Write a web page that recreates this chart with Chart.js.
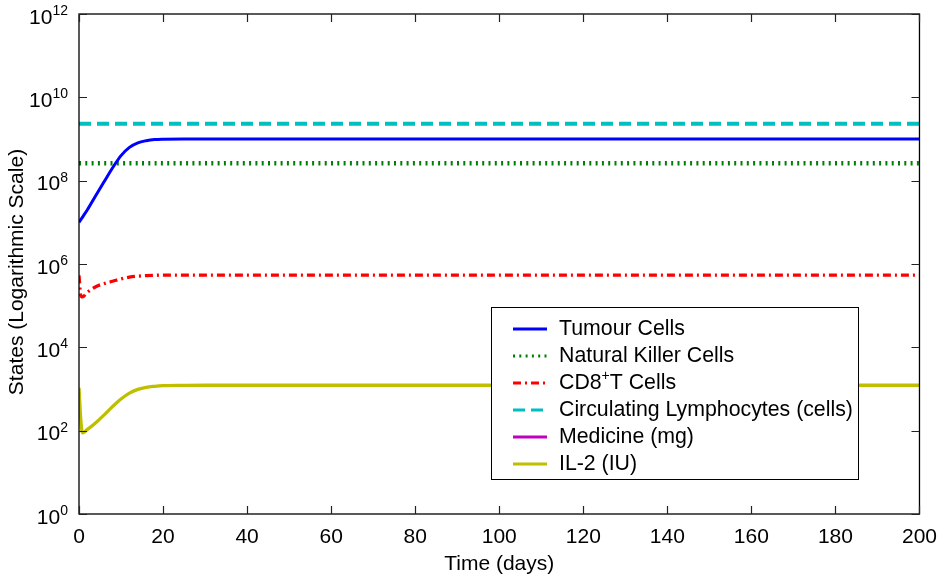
<!DOCTYPE html>
<html>
<head>
<meta charset="utf-8">
<script src="https://cdn.jsdelivr.net/npm/chart.js@4.4.1/dist/chart.umd.min.js"></script>
<style>
  body { margin: 0; background: #fff; }
  canvas { display: block; }
</style>
</head>
<body>
<canvas id="myChart" width="940" height="580"></canvas>
<script>
// time points (days)
const times = [0, 0.4, 0.8, 2, 4, 6, 8, 10, 12, 14, 16, 18, 20, 25, 30, 40, 60, 80, 100, 120, 140, 160, 180, 200];

const tumourCells = [1.0e7, 1.15e7, 1.32e7, 2.0e7, 4.4e7, 9.5e7, 2.04e8, 4.0e8, 6.3e8, 8.1e8, 9.1e8, 9.7e8, 9.9e8, 1.0e9, 1.0e9, 1.0e9, 1.0e9, 1.0e9, 1.0e9, 1.0e9, 1.0e9, 1.0e9, 1.0e9, 1.0e9];
const nkCells = [2.62e8, 2.62e8, 2.62e8, 2.62e8, 2.62e8, 2.62e8, 2.62e8, 2.62e8, 2.62e8, 2.62e8, 2.62e8, 2.62e8, 2.62e8, 2.62e8, 2.62e8, 2.62e8, 2.62e8, 2.62e8, 2.62e8, 2.62e8, 2.62e8, 2.62e8, 2.62e8, 2.62e8];
const cd8Cells = [5.3e5, 1.8e5, 1.62e5, 2.1e5, 2.85e5, 3.4e5, 3.85e5, 4.4e5, 4.85e5, 5.1e5, 5.25e5, 5.35e5, 5.4e5, 5.42e5, 5.42e5, 5.42e5, 5.42e5, 5.42e5, 5.42e5, 5.42e5, 5.42e5, 5.42e5, 5.42e5, 5.42e5];
const lymphocytes = [2.31e9, 2.31e9, 2.31e9, 2.31e9, 2.31e9, 2.31e9, 2.31e9, 2.31e9, 2.31e9, 2.31e9, 2.31e9, 2.31e9, 2.31e9, 2.31e9, 2.31e9, 2.31e9, 2.31e9, 2.31e9, 2.31e9, 2.31e9, 2.31e9, 2.31e9, 2.31e9, 2.31e9];
const medicine = [null, null, null, null, null, null, null, null, null, null, null, null, null, null, null, null, null, null, null, null, null, null, null, null];
const il2 = [1.07e3, 200, 89, 107, 155, 240, 380, 575, 794, 977, 1.1e3, 1.16e3, 1.2e3, 1.22e3, 1.23e3, 1.23e3, 1.23e3, 1.23e3, 1.23e3, 1.23e3, 1.23e3, 1.23e3, 1.23e3, 1.23e3];

const seriesLabels = ['Tumour Cells', 'Natural Killer Cells', 'CD8\u207AT Cells', 'Circulating Lymphocytes (cells)', 'Medicine (mg)', 'IL-2 (IU)'];
const yTickExponents = [0, 2, 4, 6, 8, 10, 12];
const yTitle = 'States (Logarithmic Scale)';

const FONT = '"Liberation Sans", Arial, Helvetica, sans-serif';

function pts(values) {
    return times.map((t, i) => ({ x: t, y: values[i] }));
}

// box, inward ticks, y labels with exponents, y title
const framePlugin = {
    id: 'frame',
    afterDatasetsDraw(chart) {
        const { ctx, chartArea: a, scales } = chart;
        ctx.save();
        ctx.strokeStyle = '#000';
        ctx.lineWidth = 1.3;
        ctx.strokeRect(a.left, a.top, a.right - a.left, a.bottom - a.top);
        ctx.lineWidth = 1.2;
        ctx.strokeStyle = '#222';
        ctx.beginPath();
        scales.x.ticks.forEach(t => {
            const px = Math.round(scales.x.getPixelForValue(t.value)) + 0.5;
            ctx.moveTo(px, a.bottom); ctx.lineTo(px, a.bottom - 8);
            ctx.moveTo(px, a.top); ctx.lineTo(px, a.top + 8);
        });
        yTickExponents.forEach(e => {
            const py = Math.round(scales.y.getPixelForValue(Math.pow(10, e))) + 0.5;
            ctx.moveTo(a.left, py); ctx.lineTo(a.left + 8, py);
            ctx.moveTo(a.right, py); ctx.lineTo(a.right - 8, py);
        });
        ctx.stroke();

        ctx.fillStyle = '#000';
        ctx.textBaseline = 'middle';
        ctx.textAlign = 'right';
        yTickExponents.forEach(e => {
            const py = scales.y.getPixelForValue(Math.pow(10, e));
            ctx.font = '14px ' + FONT;
            const ew = ctx.measureText(String(e)).width;
            ctx.fillText(String(e), 68, py - 3);
            ctx.font = '21px ' + FONT;
            ctx.fillText('10', 68 - ew, py + 4);
        });

        ctx.translate(17, 272);
        ctx.rotate(-Math.PI / 2);
        ctx.textAlign = 'center';
        ctx.font = '21px ' + FONT;
        ctx.fillText(yTitle, 0, 0);
        ctx.restore();
    },
    afterDraw(chart) {
        const { ctx } = chart;
        const box = { left: 491, top: 307, width: 367, height: 172 };
        ctx.save();
        ctx.fillStyle = '#fff';
        ctx.fillRect(box.left, box.top, box.width, box.height);
        ctx.strokeStyle = '#000';
        ctx.lineWidth = 1;
        ctx.strokeRect(box.left + 0.5, box.top + 0.5, box.width, box.height);
        chart.data.datasets.forEach((ds, i) => {
            const y = box.top + 22 + i * 27;
            ctx.strokeStyle = ds.borderColor;
            ctx.lineWidth = Math.min(ds.borderWidth, 3);
            ctx.setLineDash(ds.borderDash || []);
            ctx.beginPath();
            ctx.moveTo(box.left + 22, y);
            ctx.lineTo(box.left + 56, y);
            ctx.stroke();
            ctx.setLineDash([]);
            ctx.fillStyle = '#000';
            ctx.textBaseline = 'middle';
            ctx.textAlign = 'left';
            let x = box.left + 68;
            const parts = ds.label.split('\u207A');
            parts.forEach((p, k) => {
                if (k > 0) {
                    ctx.font = '14px ' + FONT;
                    ctx.fillText('+', x, y - 7);
                    x += ctx.measureText('+').width;
                }
                ctx.font = '21.3px ' + FONT;
                ctx.fillText(p, x, y);
                x += ctx.measureText(p).width;
            });
        });
        ctx.restore();
    }
};

const datasets = [
    { label: seriesLabels[0], data: pts(tumourCells), borderColor: '#0000ff', borderWidth: 3 },
    { label: seriesLabels[1], data: pts(nkCells), borderColor: '#008000', borderWidth: 4.5, borderDash: [2, 4.3] },
    { label: seriesLabels[2], data: pts(cd8Cells), borderColor: '#ff0000', borderWidth: 3.3, borderDash: [8, 4, 2, 4] },
    { label: seriesLabels[3], data: pts(lymphocytes), borderColor: '#00bfbf', borderWidth: 4, borderDash: [12, 6] },
    { label: seriesLabels[4], data: pts(medicine), borderColor: '#bf00bf', borderWidth: 3 },
    { label: seriesLabels[5], data: pts(il2), borderColor: '#bfbf00', borderWidth: 3.3 }
].map(d => Object.assign(d, { pointRadius: 0, fill: false, cubicInterpolationMode: 'monotone', borderCapStyle: 'butt' }));

const ctx = document.getElementById('myChart').getContext('2d');
new Chart(ctx, {
    type: 'line',
    data: { datasets: datasets },
    plugins: [framePlugin],
    options: {
        responsive: false,
        animation: false,
        layout: { padding: { top: 14, right: 20, left: 0, bottom: 0 } },
        plugins: { legend: { display: false }, tooltip: { enabled: false } },
        scales: {
            x: {
                type: 'linear', min: 0, max: 200,
                grid: { display: false }, border: { display: false },
                ticks: { stepSize: 20, color: '#000', padding: 3, font: { family: FONT, size: 21 } },
                title: { display: true, text: 'Time (days)', color: '#000', padding: { top: 0, bottom: 3 }, font: { family: FONT, size: 21 } },
                afterFit(scale) { scale.height = 66; }
            },
            y: {
                type: 'logarithmic', min: 1, max: 1e12,
                grid: { display: false }, border: { display: false },
                ticks: { display: false },
                title: { display: false },
                afterFit(scale) { scale.width = 79; }
            }
        }
    }
});
</script>
</body>
</html>
